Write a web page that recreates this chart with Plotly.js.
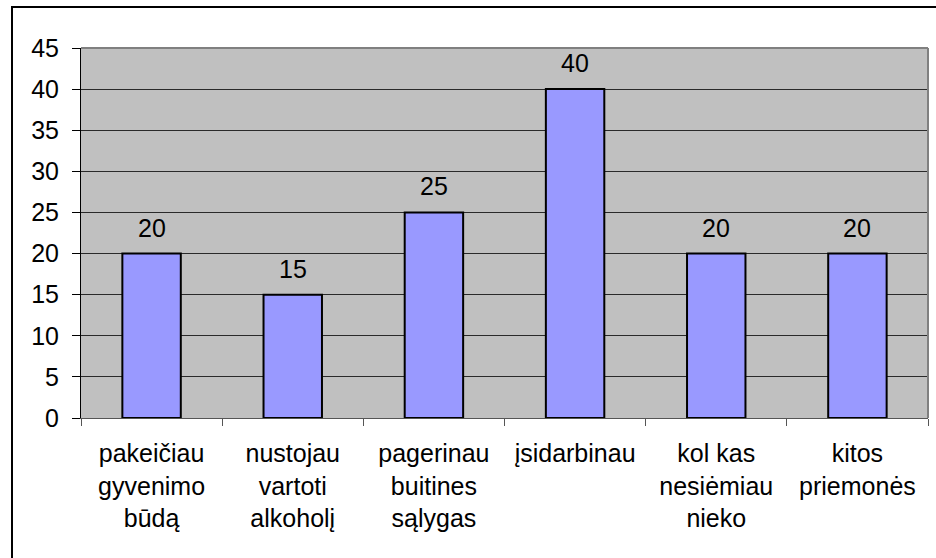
<!DOCTYPE html>
<html>
<head>
<meta charset="utf-8">
<script src="https://cdn.plot.ly/plotly-3.0.1.min.js"></script>
<style>
  html, body { margin: 0; padding: 0; background: #fff; }
  #wrap { position: relative; width: 936px; height: 558px; overflow: hidden; }
  #chart { position: absolute; left: 0; top: 0; width: 936px; height: 558px; }
  #frame { position: absolute; left: 11px; top: 6px; width: 940px; height: 600px;
           border-left: 2px solid #000; border-top: 2px solid #000; pointer-events: none; }
</style>
</head>
<body>
<div id="wrap">
  <div id="chart"></div>
  <div id="frame"></div>
</div>
<script>
const categories = [
  "pakeičiau<br>gyvenimo<br>būdą",
  "nustojau<br>vartoti<br>alkoholį",
  "pagerinau<br>buitines<br>sąlygas",
  "įsidarbinau",
  "kol kas<br>nesiėmiau<br>nieko",
  "kitos<br>priemonės"
];
const values = [20, 15, 25, 40, 20, 20];
const yTicks = [0, 5, 10, 15, 20, 25, 30, 35, 40, 45];

const FONT = "Liberation Sans, Arial, sans-serif";
const FS = 25;

const trace = {
  type: "bar",
  x: categories,
  y: values,
  marker: { color: "#9999FF", line: { color: "#000000", width: 2 } },
  hoverinfo: "skip"
};

const annotations = categories.map((c, i) => ({
  x: c, y: values[i], xref: "x", yref: "y",
  text: String(values[i]), showarrow: false,
  yanchor: "bottom", yshift: 10,
  font: { family: FONT, size: FS, color: "#000" }
}));

const layout = {
  width: 936, height: 558,
  margin: { l: 81, r: 8, t: 48, b: 140, pad: 0 },
  paper_bgcolor: "#ffffff",
  plot_bgcolor: "#C0C0C0",
  bargap: 0.586,
  showlegend: false,
  font: { family: FONT, size: FS, color: "#000" },
  xaxis: {
    type: "category",
    tickson: "boundaries",
    ticks: "outside", ticklen: 7, tickcolor: "#555", tickwidth: 1,
    ticklabelstandoff: 13,
    showline: true, linecolor: "#555", linewidth: 1,
    showgrid: false, zeroline: false,
    tickfont: { family: FONT, size: FS, color: "#000" },
    fixedrange: true
  },
  yaxis: {
    range: [0, 45],
    tickvals: yTicks,
    ticktext: yTicks.map(String),
    ticks: "outside", ticklen: 8, tickcolor: "#000", tickwidth: 1,
    ticklabelstandoff: 8,
    showline: true, linecolor: "#000", linewidth: 1,
    showgrid: true, gridcolor: "#2a2a2a", gridwidth: 1,
    zeroline: false,
    tickfont: { family: FONT, size: FS, color: "#000" },
    fixedrange: true
  },
  shapes: [
    { type: "line", xref: "paper", yref: "paper", x0: 0, x1: 1, y0: 1, y1: 1,
      line: { color: "#808080", width: 2 } },
    { type: "line", xref: "paper", yref: "paper", x0: 1, x1: 1, y0: 0, y1: 1,
      line: { color: "#808080", width: 2 } }
  ],
  annotations: annotations
};

Plotly.newPlot("chart", [trace], layout, { displayModeBar: false, staticPlot: true });
</script>
</body>
</html>
